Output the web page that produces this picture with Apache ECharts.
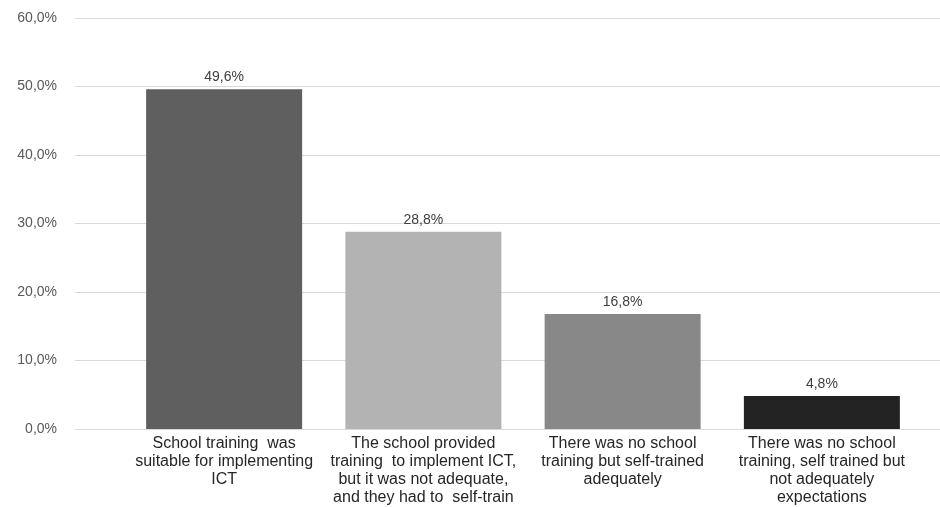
<!DOCTYPE html>
<html><head><meta charset="utf-8">
<script src="https://cdn.jsdelivr.net/npm/echarts@6/dist/echarts.min.js"></script>
<style>html,body{margin:0;padding:0;background:#fff}#c{width:940px;height:507px}</style>
</head><body><div id="c"></div>
<script>
const categories = [
  "School training  was\nsuitable for implementing\nICT",
  "The school provided\ntraining  to implement ICT,\nbut it was not adequate,\nand they had to  self-train",
  "There was no school\ntraining but self-trained\nadequately",
  "There was no school\ntraining, self trained but\nnot adequately\nexpectations"
];
const values = [49.6, 28.8, 16.8, 4.8];
const barColors = ["#5f5f5f", "#b3b3b3", "#888888", "#232323"];
const yMin = 0, yMax = 60, yStep = 10;

const fmt = v => v.toFixed(1).replace('.', ',') + '%';
const chart = echarts.init(document.getElementById('c'), null, {renderer: 'canvas'});
chart.setOption({
  animation: false,
  grid: [
    {left: 75, right: 0, top: 18, bottom: 78},
    {left: 124.5, right: 18.5, top: 18, bottom: 78}
  ],
  xAxis: [
    {gridIndex: 0, type: 'category', data: [''], show: false},
    {gridIndex: 1, type: 'category', data: categories,
     axisLine: {show: false}, axisTick: {show: false},
     axisLabel: {interval: 0, color: '#262626', fontFamily: 'Liberation Sans, Arial', fontSize: 16, lineHeight: 18, margin: 6}}
  ],
  yAxis: [
    {gridIndex: 0, type: 'value', min: yMin, max: yMax, interval: yStep,
     axisLine: {show: false}, axisTick: {show: false},
     axisLabel: {formatter: fmt, color: '#595959', fontFamily: 'Liberation Sans, Arial', fontSize: 14, margin: 18},
     splitLine: {lineStyle: {color: '#d9d9d9', width: 1}}},
    {gridIndex: 1, type: 'value', min: yMin, max: yMax, interval: yStep, show: false}
  ],
  series: [{
    type: 'bar', xAxisIndex: 1, yAxisIndex: 1,
    barWidth: 156,
    data: values.map((v, i) => ({value: v, itemStyle: {color: barColors[i]}})),
    label: {show: true, position: 'top', distance: 5, formatter: p => fmt(p.value),
            color: '#404040', fontFamily: 'Liberation Sans, Arial', fontSize: 14}
  }]
});
</script></body></html>
